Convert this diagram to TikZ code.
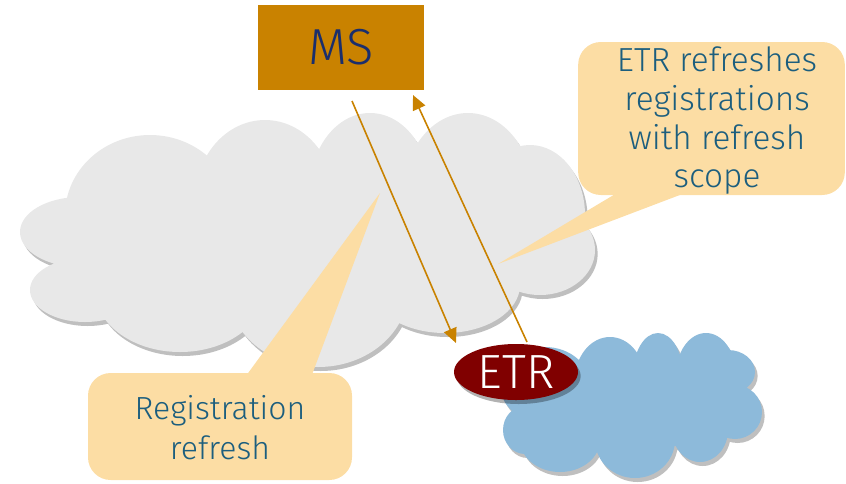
\documentclass[tikz,border=0pt]{standalone}
\usepackage{fontspec}
\setmainfont{Fira Sans}[UprightFont=* Light]
\usetikzlibrary{shadows,shapes.geometric,arrows.meta}
\definecolor{msorange}{RGB}{201,130,0}
\definecolor{msnavy}{RGB}{26,46,108}
\definecolor{callteal}{RGB}{28,94,126}
\definecolor{callfill}{RGB}{252,221,164}
\definecolor{cloudgray}{RGB}{232,232,232}
\definecolor{cloudblue}{RGB}{141,186,218}
\definecolor{etrred}{RGB}{128,0,0}
\begin{document}
\begin{tikzpicture}[x=0.75pt,y=-0.75pt,
  cloudshadow/.style={drop shadow={shadow xshift=2pt,shadow yshift=-3pt,opacity=0.25,fill=black}},
  calloutbox/.style={fill=callfill,rounded corners=17pt,inner sep=0pt},
  callouttext/.style={text=callteal,align=center,inner sep=0pt},
  flowarrow/.style={draw=msorange,line width=1.2pt,-{Triangle[length=11pt,width=10pt]}}]
\useasboundingbox (0,0) rectangle (846,483);

% gray cloud
\fill[cloudgray,cloudshadow]
  (300,240) ellipse [x radius=200,y radius=80]
  (150,215) ellipse [x radius=85,y radius=80]
  (265,200) ellipse [x radius=70,y radius=80]
  (370,190) ellipse [x radius=60,y radius=77]
  (468,195) ellipse [x radius=65,y radius=82]
  (530,215) ellipse [x radius=55,y radius=70]
  (540,250) ellipse [x radius=55,y radius=45]
  (445,285) ellipse [x radius=75,y radius=48]
  (318,290) ellipse [x radius=90,y radius=77]
  (180,290) ellipse [x radius=85,y radius=62]
  (85,290) ellipse [x radius=55,y radius=32]
  (80,232) ellipse [x radius=60,y radius=35];

% blue cloud
\fill[cloudblue,cloudshadow]
  (630,405) ellipse [x radius=110,y radius=45]
  (610,380) ellipse [x radius=35,y radius=43]
  (658,375) ellipse [x radius=25,y radius=42]
  (706,375) ellipse [x radius=30,y radius=42]
  (728,372) ellipse [x radius=27,y radius=22]
  (735,412) ellipse [x radius=27,y radius=27]
  (700,430) ellipse [x radius=28,y radius=32]
  (635,440) ellipse [x radius=40,y radius=38]
  (560,440) ellipse [x radius=40,y radius=32]
  (525,430) ellipse [x radius=22,y radius=24]
  (545,385) ellipse [x radius=45,y radius=38];

% callout 2: Registration refresh
\coordinate (p2tip) at (380,193);
\coordinate (p2a) at (243,380);
\coordinate (p2b) at (310,380);
\fill[callfill] (p2tip) -- (p2a) -- (p2b) -- cycle;
\node[calloutbox,minimum width=198pt,minimum height=80.25pt] (c2) at (220,426.5) {};
\node[callouttext,font=\fontsize{24}{30}\selectfont] (c2text) at (220,428) {Registration\\refresh};

% arrows
\coordinate (a1s) at (352,101);
\coordinate (a1e) at (456,343);
\coordinate (a2s) at (527,342);
\coordinate (a2e) at (413,95);
\draw[flowarrow] (a1s) -- (a1e);
\draw[flowarrow] (a2s) -- (a2e);

% callout 1
\coordinate (p1tip) at (498,264);
\coordinate (p1a) at (622,190);
\coordinate (p1b) at (693,190);
\fill[callfill] (p1tip) -- (p1a) -- (p1b) -- cycle;
\node[calloutbox,minimum width=200pt,minimum height=114.75pt] (c1) at (711.5,118.5) {};
\node[callouttext,font=\fontsize{25}{29}\selectfont] (c1text) at (717,121)
  {ETR refreshes\\registrations\\with refresh\\scope};

% MS box
\node[fill=msorange,text=msnavy,minimum width=124.5pt,minimum height=63.75pt,inner sep=0pt,
  font=\fontsize{38}{40}\selectfont] (ms) at (341,47.5) {MS};

% ETR
\node[ellipse,fill=etrred,text=white,minimum width=93pt,minimum height=42pt,inner sep=0pt,
  font=\fontsize{36}{38}\selectfont,
  drop shadow={shadow xshift=2pt,shadow yshift=-3pt,opacity=0.3,fill=black}] (etr) at (516,372) {ETR};
\end{tikzpicture}
\end{document}
